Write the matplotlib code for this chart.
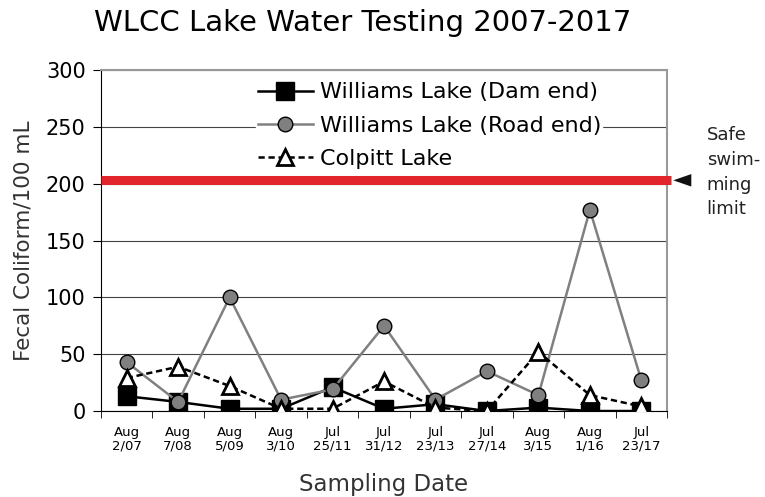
import numpy as np
import matplotlib.pyplot as plt

dates = ['Aug\n2/07', 'Aug\n7/08', 'Aug\n5/09', 'Aug\n3/10', 'Jul\n25/11', 'Jul\n31/12',
         'Jul\n23/13', 'Jul\n27/14', 'Aug\n3/15', 'Aug\n1/16', 'Jul\n23/17']
dam_end = [13, 8, 2, 2, 21, 2, 6, 0, 3, 0, 0]
road_end = [43, 8, 100, 10, 19, 75, 10, 35, 14, 177, 27]
colpitt = [29, 39, 22, 2, 2, 26, 3, 0, 52, 14, 4]
safe_limit = 203

plt.rcParams['font.family'] = ['DejaVu Sans']

fig = plt.figure(figsize=(7.65, 4.97), dpi=100)
ax = fig.add_axes([0.132, 0.173, 0.740, 0.686])
x = np.arange(len(dates))

ax.plot(x, dam_end, color='black', lw=1.8, marker='s', ms=13.5, mfc='black',
        mec='black', zorder=3, label='Williams Lake (Dam end)')
ax.plot(x, road_end, color='#808080', lw=1.8, marker='o', ms=10.5, mfc='#808080',
        mec='black', mew=1, zorder=4, label='Williams Lake (Road end)')
ax.plot(x, colpitt, color='black', lw=1.8, ls=(0, (2.5, 1.5)), marker='^', ms=12,
        mfc='white', mec='black', mew=2, zorder=5, label='Colpitt Lake')

# safe swimming limit line, runs slightly past the frame
ax.plot([-0.5, 10.58], [safe_limit, safe_limit], color='#e2242b', lw=6.5,
        solid_capstyle='butt', clip_on=False, zorder=6)
ax.annotate('', xy=(10.62, safe_limit), xytext=(11.12, safe_limit),
            arrowprops=dict(arrowstyle='-|>,head_length=1.3,head_width=0.45',
                            color='#111111', lw=0, shrinkA=0, shrinkB=0),
            annotation_clip=False)
ax.text(11.27, safe_limit + 7, 'Safe\nswim-\nming\nlimit', fontsize=13,
        color='#222222', ha='left', va='center', linespacing=1.48, clip_on=False)

ax.set_xlim(-0.5, len(dates) - 0.5)
ax.set_ylim(0, 300)
ax.set_yticks(np.arange(0, 301, 50))
ax.set_xticks(x)
ax.set_xticklabels(dates, fontsize=9.5, linespacing=1.0)
ax.set_xticks(np.arange(-0.5, len(dates), 1), minor=True)
ax.tick_params(axis='x', which='major', length=0, pad=11)
ax.tick_params(axis='x', which='minor', length=5, color='black')
ax.tick_params(axis='y', labelsize=15, length=6, pad=5)
ax.yaxis.grid(True, color='#444444', lw=0.8)
ax.set_axisbelow(True)

for side in ['top', 'right']:
    ax.spines[side].set_color('#999999')
    ax.spines[side].set_linewidth(1.5)
ax.spines['left'].set_color('black')
ax.spines['bottom'].set_color('black')

ax.set_ylabel('Fecal Coliform/100 mL', fontsize=15.5, color='#333333', labelpad=9)
ax.set_xlabel('Sampling Date', fontsize=16.5, color='#333333', labelpad=15)
fig.suptitle('WLCC Lake Water Testing 2007-2017', fontsize=21, x=0.474, y=0.982)

leg = ax.legend(loc='upper center', bbox_to_anchor=(0.58, 1.0), fontsize=16,
                frameon=True, framealpha=1, edgecolor='white', fancybox=False,
                handlelength=2.5, handletextpad=0.3, labelspacing=0.6,
                borderpad=0.05)
leg.set_zorder(7)

fig.savefig('out.png', dpi=100)
